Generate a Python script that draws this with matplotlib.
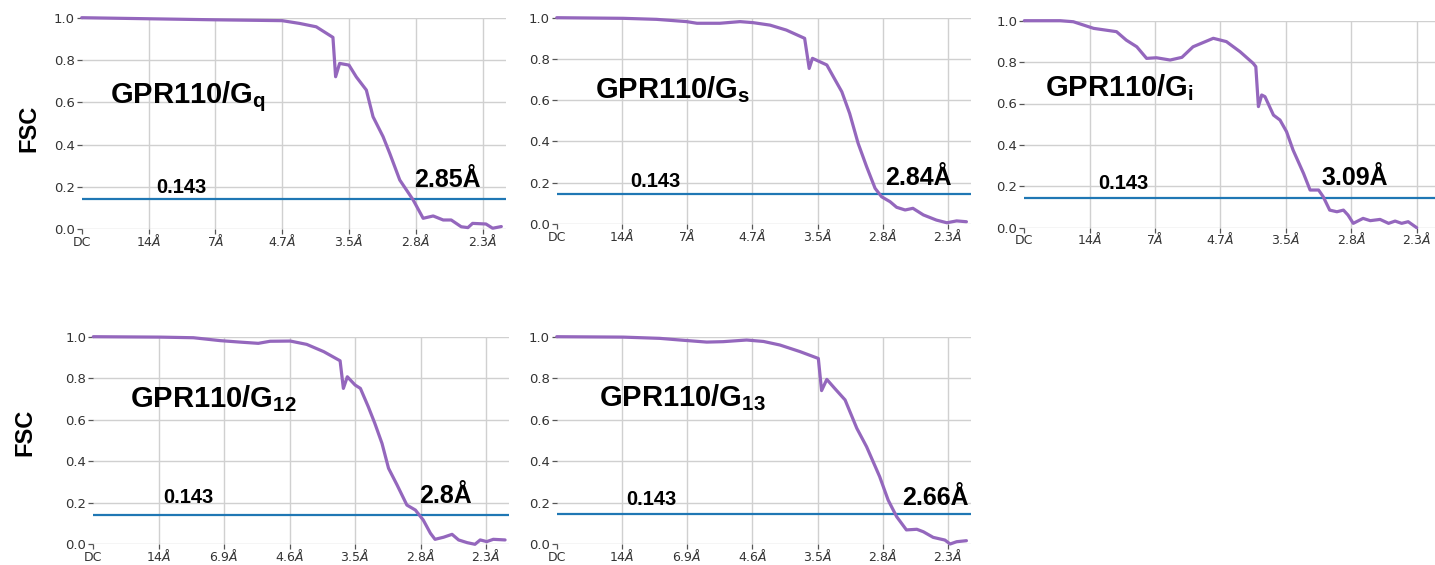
import matplotlib
matplotlib.use("Agg")
import matplotlib.pyplot as plt

plt.rcParams["mathtext.fontset"] = "custom"
plt.rcParams["mathtext.rm"] = "DejaVu Sans"
plt.rcParams["mathtext.it"] = "DejaVu Sans:italic"
plt.rcParams["mathtext.bf"] = "Liberation Sans:bold"

# x in tick units: 1 unit = 1/14 1/A (DC, 14A, 7A, 4.7A, 3.5A, 2.8A, 2.3A)
top_ticklabels = ["DC", "14$Å$", "7$Å$", "4.7$Å$", "3.5$Å$", "2.8$Å$", "2.3$Å$"]
bottom_ticklabels = ["DC", "14$Å$", "6.9$Å$", "4.6$Å$", "3.5$Å$", "2.8$Å$", "2.3$Å$"]
y_ticks = [0.0, 0.2, 0.4, 0.6, 0.8, 1.0]
threshold = 0.143

gq_x = [0.0, 1.0, 2.0, 3.0, 3.26, 3.51, 3.76, 3.80, 3.86, 4.0, 4.11, 4.26, 4.36, 4.51,
        4.61, 4.76, 4.96, 5.11, 5.26, 5.41, 5.53, 5.68, 5.78, 5.85, 6.05, 6.15, 6.28]
gq_y = [1.0, 0.995, 0.99, 0.986, 0.973, 0.957, 0.907, 0.721, 0.784, 0.776, 0.72, 0.658,
        0.532, 0.438, 0.359, 0.233, 0.139, 0.052, 0.063, 0.044, 0.044, 0.012, 0.008,
        0.028, 0.025, 0.005, 0.013]

gs_x = [0.0, 1.02, 1.53, 1.99, 2.15, 2.5, 2.81, 3.01, 3.27, 3.52, 3.8, 3.87, 3.92, 4.14,
        4.24, 4.37, 4.49, 4.62, 4.75, 4.88, 4.98, 5.11, 5.21, 5.34, 5.46, 5.62, 5.82,
        5.98, 6.13, 6.28]
gs_y = [1.0, 0.997, 0.992, 0.981, 0.973, 0.973, 0.981, 0.976, 0.964, 0.94, 0.9, 0.754,
        0.803, 0.771, 0.714, 0.641, 0.536, 0.391, 0.278, 0.173, 0.132, 0.108, 0.081,
        0.068, 0.076, 0.044, 0.019, 0.006, 0.015, 0.011]

gi_x = [0.0, 0.55, 0.75, 1.06, 1.41, 1.56, 1.72, 1.87, 2.02, 2.23, 2.41, 2.58, 2.89,
        3.09, 3.3, 3.5, 3.54, 3.58, 3.63, 3.68, 3.81, 3.91, 4.01, 4.11, 4.27, 4.37,
        4.5, 4.57, 4.67, 4.78, 4.88, 4.95, 5.03, 5.18, 5.29, 5.44, 5.57, 5.67, 5.77,
        5.87, 6.0]
gi_y = [1.0, 1.0, 0.995, 0.963, 0.947, 0.906, 0.874, 0.818, 0.821, 0.81, 0.823, 0.874,
        0.915, 0.899, 0.85, 0.794, 0.778, 0.585, 0.641, 0.633, 0.544, 0.52, 0.464,
        0.375, 0.262, 0.182, 0.182, 0.15, 0.085, 0.077, 0.085, 0.061, 0.021, 0.045,
        0.034, 0.04, 0.021, 0.032, 0.021, 0.029, 0.0]

g12_x = [0.0, 1.02, 1.53, 1.94, 2.24, 2.52, 2.7, 3.01, 3.26, 3.52, 3.77, 3.82, 3.88,
         4.0, 4.08, 4.2, 4.3, 4.41, 4.51, 4.64, 4.79, 4.92, 5.04, 5.15, 5.22, 5.35,
         5.48, 5.58, 5.71, 5.83, 5.91, 6.01, 6.11, 6.29]
g12_y = [1.0, 0.998, 0.995, 0.981, 0.974, 0.968, 0.978, 0.979, 0.963, 0.928, 0.884,
         0.751, 0.807, 0.767, 0.751, 0.663, 0.583, 0.486, 0.366, 0.286, 0.189, 0.165,
         0.117, 0.053, 0.024, 0.034, 0.048, 0.021, 0.008, 0.0, 0.021, 0.013, 0.024,
         0.021]

g13_x = [0.0, 1.02, 1.58, 1.89, 2.3, 2.55, 2.91, 3.17, 3.42, 3.73, 4.01, 4.06, 4.14,
         4.26, 4.42, 4.6, 4.75, 4.95, 5.08, 5.21, 5.36, 5.52, 5.62, 5.77, 5.95, 6.03,
         6.13, 6.28]
g13_y = [1.0, 0.998, 0.992, 0.984, 0.974, 0.976, 0.984, 0.977, 0.96, 0.928, 0.895,
         0.74, 0.794, 0.751, 0.695, 0.558, 0.469, 0.325, 0.212, 0.132, 0.068, 0.071,
         0.059, 0.032, 0.019, 0.0, 0.011, 0.016]

W, H = 1435, 565


def px_axes(left, right, top, bottom):
    return [left / W, 1 - bottom / H, (right - left) / W, (bottom - top) / H]


panels = [
    # x, y, ticklabels, sub, resolution, axes box px, xmax, text positions
    (gq_x, gq_y, top_ticklabels, "q", "2.85Å", px_axes(81.7, 506, 17.7, 229.3), 6.35,
     (0.42, 0.597), (1.11, 0.173), (4.97, 0.2)),
    (gs_x, gs_y, top_ticklabels, "s", "2.84Å", px_axes(556.7, 971, 17.7, 224), 6.35,
     (0.59, 0.609), (1.12, 0.181), (5.03, 0.189)),
    (gi_x, gi_y, top_ticklabels, "i", "3.09Å", px_axes(1024.3, 1435, 20.7, 227.7), 6.28,
     (0.32, 0.633), (1.13, 0.185), (4.55, 0.206)),
    (g12_x, g12_y, bottom_ticklabels, "12", "2.8Å", px_axes(93.3, 509, 336.7, 544.3), 6.35,
     (0.56, 0.66), (1.07, 0.197), (4.98, 0.197)),
    (g13_x, g13_y, bottom_ticklabels, "13", "2.66Å", px_axes(556.7, 971, 336.7, 544), 6.35,
     (0.65, 0.666), (1.06, 0.188), (5.3, 0.188)),
]

fig = plt.figure(figsize=(W / 100, H / 100), dpi=100)

for x, y, labels, sub, res, box, xmax, title_pos, thr_pos, res_pos in panels:
    ax = fig.add_axes(box)
    ax.set_xlim(0, xmax)
    ax.set_ylim(0, 1.0)
    ax.set_xticks(range(len(labels)))
    ax.set_xticklabels(labels)
    ax.set_yticks(y_ticks)
    ax.set_yticklabels([f"{v:.1f}" for v in y_ticks])
    ax.grid(True, color="#d0d0d0", lw=1.0)
    ax.set_axisbelow(True)
    ax.get_xgridlines()[0].set_visible(False)
    for s in ax.spines.values():
        s.set_visible(False)
    ax.tick_params(axis="both", labelcolor="#333333", color="#555555",
                   length=3.5, width=0.9)
    ax.tick_params(axis="x", labelsize=9, pad=8.5)
    ax.tick_params(axis="y", labelsize=9.5, pad=1.5)
    for lab in ax.get_xticklabels():
        lab.set_verticalalignment("baseline")

    ax.axhline(threshold, color="#1f77b4", lw=1.6, zorder=2)
    ax.plot(x, y, color="#9467bd", lw=2.3, clip_on=False, zorder=3,
            solid_joinstyle="round", solid_capstyle="round")

    ax.text(*title_pos, "GPR110/G$_\\mathbf{" + sub + "}$", fontsize=21,
            fontfamily="Liberation Sans", fontweight="bold", ha="left", va="baseline")
    ax.text(*thr_pos, f"{threshold}", fontsize=14.5, fontfamily="Liberation Sans",
            fontweight="bold", ha="left", va="baseline")
    ax.text(*res_pos, res, fontsize=18, fontfamily="Liberation Sans",
            fontweight="bold", ha="left", va="baseline")

fig.text(29 / W, 1 - 128 / H, "FSC", rotation=90, fontsize=17, fontfamily="Liberation Sans",
         fontweight="bold", ha="center", va="center")
fig.text(25 / W, 1 - 432 / H, "FSC", rotation=90, fontsize=17, fontfamily="Liberation Sans",
         fontweight="bold", ha="center", va="center")

fig.savefig("out.png", dpi=100)
